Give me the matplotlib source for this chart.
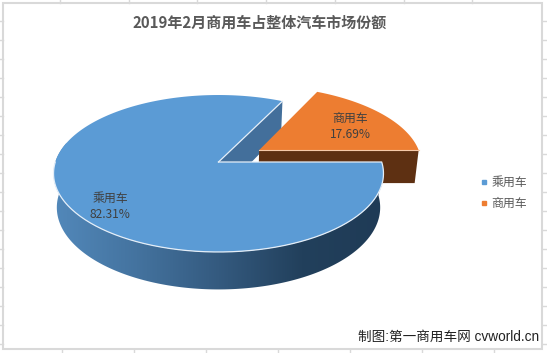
import numpy as np
import matplotlib
matplotlib.use("Agg")
import matplotlib.pyplot as plt
from matplotlib.colors import LinearSegmentedColormap
from matplotlib.lines import Line2D
from matplotlib.patches import Polygon

TITLE = "2019年2月商用车占整体汽车市场份额"
CREDIT = "制图:第一商用车网 cvworld.cn"
categories = ["乘用车", "商用车"]
shares = [82.31, 17.69]
explode = [0.0, 0.3]
top_colors = ["#5b9bd5", "#ed7d31"]

plt.rcParams["font.family"] = ["Noto Sans CJK SC", "DejaVu Sans"]

# pixel geometry of the 3D pie
CX, CY = 218.5, 162.0
A, B = 163.2, 76.8
PERSP = 0.1465
DEPTH = 33.5
SHRINK = 0.98


def project(x, y, bottom=False):
	"""
	Unit circle coordinates (y towards viewer) to pixels
	"""
	w = 1 - PERSP * y
	if bottom:
		return CX + SHRINK * A * x / w, CY + (SHRINK * B * y + DEPTH) / w
	return CX + A * x / w, CY + B * y / w


def wedge(t0, t1, off, bottom=False, centre=True):
	"""
	Outline of a slice, angles in degrees clockwise from the right
	"""
	t = np.radians(np.linspace(t0, t1, 200))
	x = off[0] + np.cos(t)
	y = off[1] + np.sin(t)
	if centre:
		x = np.r_[off[0], x]
		y = np.r_[off[1], y]
	px, py = project(x, y, bottom)
	return np.c_[px, py]


def side(t0, t1, off):
	"""
	Wall under an arc
	"""
	top = wedge(t0, t1, off, centre=False)
	low = wedge(t0, t1, off, bottom=True, centre=False)
	return np.r_[top, low[::-1]]


def flat_wall(p0, p1):
	"""
	Wall under the straight edge between two circle points
	"""
	xs = np.array([p0[0], p1[0]])
	ys = np.array([p0[1], p1[1]])
	tx, ty = project(xs, ys)
	lx, ly = project(xs, ys, True)
	return np.c_[np.r_[tx, lx[::-1]], np.r_[ty, ly[::-1]]]


fig = plt.figure(figsize=(5.47, 3.53), dpi=100)
ax = fig.add_axes([0, 0, 1, 1])

# spreadsheet cells around the chart
grid = "#d9d9d9"
for x in [60, 129, 197, 266, 335, 404, 472]:
	ax.plot([x, x], [0, 3], color=grid, lw=1)
for x in [62, 134, 206, 278, 350, 422, 494]:
	ax.plot([x, x], [349, 353], color=grid, lw=1)
for y in range(2, 350, 19):
	if y > 3:
		ax.plot([0, 3], [y, y], color=grid, lw=1)
		ax.plot([542, 547], [y, y], color=grid, lw=1)
ax.add_patch(Polygon([[2.5, 3], [542, 3], [542, 349], [2.5, 349]], fc="white", ec=grid, lw=1.5))

# slice angles from the shares
blue_end = 360 * shares[0] / 100
mid = np.radians((blue_end + 360) / 2)
off = (explode[1] * np.cos(mid), explode[1] * np.sin(mid))
no_off = (0.0, 0.0)
end = np.radians(blue_end)

# wall of the notch in the big slice
ax.add_patch(Polygon(flat_wall(no_off, (np.cos(end), np.sin(end))), fc="#436f9b", ec="none"))

# small slice
ax.add_patch(Polygon(flat_wall(off, (off[0] + 1, off[1])), fc="#5e3012", ec="none"))
ax.add_patch(Polygon(wedge(blue_end, 360, off), fc=top_colors[1], ec="none"))
ax.plot(*wedge(360, 360 + 0.01, off).T, color="#f6c9a8", lw=0.8)

# big slice, gradient wall (front part only) then top
wall = Polygon(side(0, 195, no_off), fc="none", ec="none")
ax.add_patch(wall)
ramp = LinearSegmentedColormap.from_list("wall", ["#5288ba", "#44739f", "#345a7f", "#22405c", "#1f3b56"])
img = ax.imshow(np.linspace(0, 1, 256)[None, :], cmap=ramp, extent=[54, 384, 300, 90], aspect="auto", zorder=2)
img.set_clip_path(wall)
ax.add_patch(Polygon(wedge(0, blue_end, no_off), fc=top_colors[0], ec="none", zorder=3))
ax.plot(*wedge(0, 180, no_off).T, color="#e4eef8", lw=0.9, zorder=3)
ax.plot(*wedge(blue_end, blue_end + 0.01, no_off).T, color="#e4eef8", lw=0.9, zorder=3)

ax.set_xlim(0, 547)
ax.set_ylim(353, 0)
ax.axis("off")

ax.text(260, 23, TITLE, ha="center", va="center", fontsize=10.8, fontweight="bold", color="#595959", zorder=5)

label_pos = [(110, 206), (350, 126)]
for name, val, (x, y) in zip(categories, shares, label_pos):
	ax.text(x, y, f"{name}\n{val:.2f}%", ha="center", va="center", fontsize=8.6, color="#404040", linespacing=1.3, zorder=5)

handles = [Line2D([], [], ls="none", marker="s", ms=2.6, color=c) for c in top_colors]
ax.legend(handles, categories, frameon=False, loc="center left", bbox_to_anchor=(478, 193), bbox_transform=ax.transData,
	fontsize=8.6, labelcolor="#595959", labelspacing=0.62, handletextpad=0.1, handlelength=1.0, borderpad=0, borderaxespad=0)

ax.text(539, 337, CREDIT, ha="right", va="center", fontsize=9.8, color="#222222", zorder=5,
	family=["Liberation Sans", "Noto Sans CJK SC"])

fig.savefig("out.png", dpi=100)
